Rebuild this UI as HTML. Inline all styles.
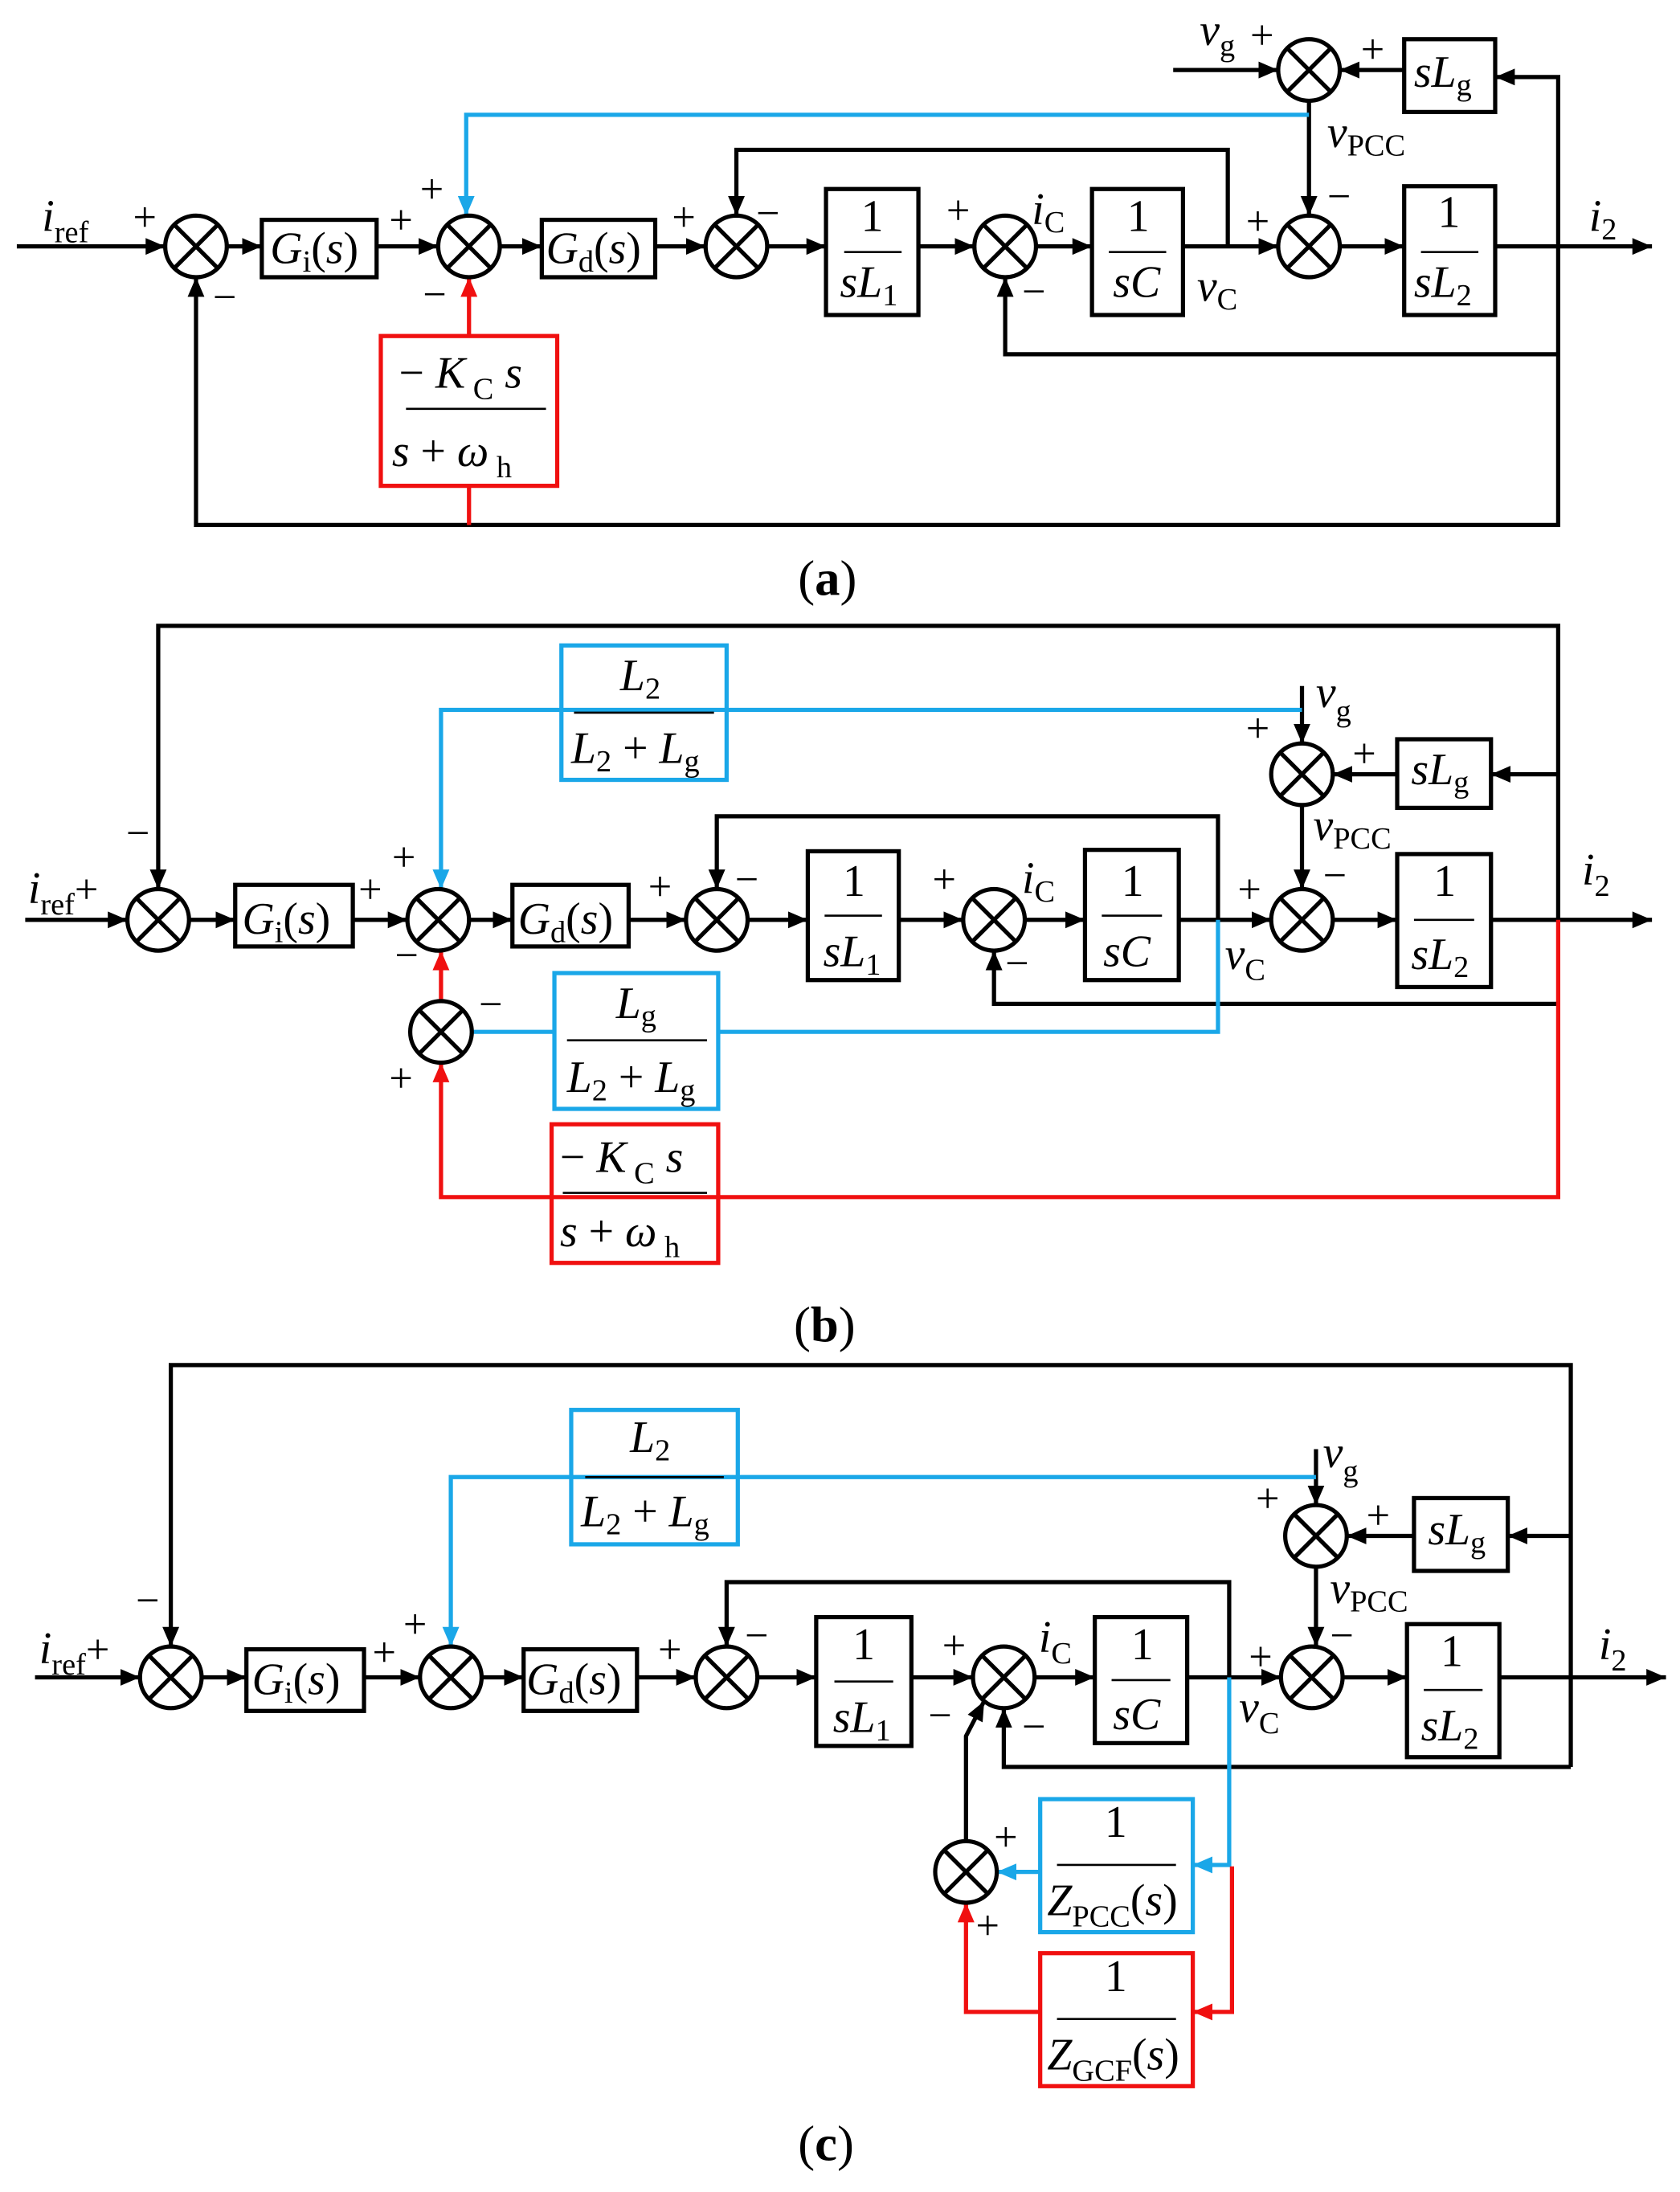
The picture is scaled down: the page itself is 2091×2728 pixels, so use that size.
<!DOCTYPE html>
<html><head><meta charset="utf-8"><style>
html,body{margin:0;padding:0;background:#fff}
svg{display:block}
text{font-family:"Liberation Serif",serif;font-size:32px;fill:#000}
.i{font-style:italic}
.s{font-size:22px;font-style:normal}
.p{font-size:30px}
.lb{font-size:36px}
</style></head><body>
<svg width="2091" height="2728" viewBox="0 0 1200 1565.6" xmlns="http://www.w3.org/2000/svg">
<defs>
<marker id="ab" viewBox="0 0 14 14" refX="14" refY="7" markerWidth="14" markerHeight="14" orient="auto" markerUnits="userSpaceOnUse"><path d="M0,1L14,7L0,13z" fill="#1aa7e8"/></marker>
<marker id="ar" viewBox="0 0 14 14" refX="14" refY="7" markerWidth="14" markerHeight="14" orient="auto" markerUnits="userSpaceOnUse"><path d="M0,1L14,7L0,13z" fill="#f01010"/></marker>
<marker id="a" viewBox="0 0 14 14" refX="14" refY="7" markerWidth="14" markerHeight="14" orient="auto" markerUnits="userSpaceOnUse"><path d="M0,1L14,7L0,13z" fill="#000"/></marker>
<g id="sj"><circle cx="0" cy="0" r="22" fill="#fff" stroke="#000" stroke-width="3"/><path d="M-15.5,-15.5L15.5,15.5M15.5,-15.5L-15.5,15.5" stroke="#000" stroke-width="3"/></g>
</defs>

<g fill="none" stroke="#000" stroke-width="3">
<!-- ===== (a) ===== -->
<path d="M12,176H118" marker-end="url(#a)"/>
<path d="M162,176H187" marker-end="url(#a)"/>
<path d="M269,176H313" marker-end="url(#a)"/>
<path d="M357,176H387" marker-end="url(#a)"/>
<path d="M468,176H504" marker-end="url(#a)"/>
<path d="M548,176H590" marker-end="url(#a)"/>
<path d="M656,176H696" marker-end="url(#a)"/>
<path d="M740,176H780" marker-end="url(#a)"/>
<path d="M845,176H913" marker-end="url(#a)"/>
<path d="M957,176H1003" marker-end="url(#a)"/>
<path d="M1068,176H1180" marker-end="url(#a)"/>
<path d="M877,176V107H526V154" marker-end="url(#a)"/>
<path d="M1113,176V55H1068" marker-end="url(#a)"/>
<path d="M1113,176V253H718V198" marker-end="url(#a)"/>
<path d="M1113,253V375H140V198" marker-end="url(#a)"/>
<path d="M1003,50H957" marker-end="url(#a)"/>
<path d="M838,50H913" marker-end="url(#a)"/>
<path d="M935,72V154" marker-end="url(#a)"/>
<rect x="187" y="157" width="82" height="41"/>
<rect x="387" y="157" width="81" height="41"/>
<rect x="590" y="135" width="66" height="90"/>
<rect x="780" y="135" width="65" height="90"/>
<rect x="1003" y="133" width="65" height="92"/>
<rect x="1003" y="28" width="65" height="52"/>
<path d="M603,180H644M792,180H833M1015,180H1056" stroke-width="1.5"/>

<!-- ===== (b) ===== -->
<path d="M18,657H91" marker-end="url(#a)"/>
<path d="M135,657H168" marker-end="url(#a)"/>
<path d="M252,657H291" marker-end="url(#a)"/>
<path d="M335,657H366" marker-end="url(#a)"/>
<path d="M449,657H490" marker-end="url(#a)"/>
<path d="M534,657H577" marker-end="url(#a)"/>
<path d="M642,657H688" marker-end="url(#a)"/>
<path d="M732,657H775" marker-end="url(#a)"/>
<path d="M842,657H908" marker-end="url(#a)"/>
<path d="M952,657H998" marker-end="url(#a)"/>
<path d="M1065,657H1180" marker-end="url(#a)"/>
<path d="M1113,657V447H113V635" marker-end="url(#a)"/>
<path d="M870,657V583H512V635" marker-end="url(#a)"/>
<path d="M1113,717H710V679" marker-end="url(#a)"/>
<path d="M1113,553H1065" marker-end="url(#a)"/>
<path d="M998,553H952" marker-end="url(#a)"/>
<path d="M930,490V531" marker-end="url(#a)"/>
<path d="M930,575V635" marker-end="url(#a)"/>
<rect x="168" y="632" width="84" height="44"/>
<rect x="366" y="632" width="83" height="44"/>
<rect x="577" y="608" width="65" height="92"/>
<rect x="775" y="607" width="67" height="93"/>
<rect x="998" y="610" width="67" height="95"/>
<rect x="998" y="528" width="67" height="49"/>
<path d="M589,654H630M787,654H830M1010,657H1053" stroke-width="1.5"/>

<!-- ===== (c) ===== -->
<path d="M25,1198H100" marker-end="url(#a)"/>
<path d="M144,1198H176" marker-end="url(#a)"/>
<path d="M260,1198H300" marker-end="url(#a)"/>
<path d="M344,1198H374" marker-end="url(#a)"/>
<path d="M455,1198H497" marker-end="url(#a)"/>
<path d="M541,1198H583" marker-end="url(#a)"/>
<path d="M651,1198H695" marker-end="url(#a)"/>
<path d="M739,1198H782" marker-end="url(#a)"/>
<path d="M848,1198H915" marker-end="url(#a)"/>
<path d="M959,1198H1005" marker-end="url(#a)"/>
<path d="M1071,1198H1190" marker-end="url(#a)"/>
<path d="M1122,1262V975H122V1176" marker-end="url(#a)"/>
<path d="M878,1198V1130H519V1176" marker-end="url(#a)"/>
<path d="M1122,1262H717V1220" marker-end="url(#a)"/>
<path d="M1122,1097H1077" marker-end="url(#a)"/>
<path d="M1010,1097H962" marker-end="url(#a)"/>
<path d="M940,1035V1075" marker-end="url(#a)"/>
<path d="M940,1119V1176" marker-end="url(#a)"/>
<path d="M690,1315V1240L703,1215" marker-end="url(#a)"/>
<rect x="176" y="1178" width="84" height="44"/>
<rect x="374" y="1178" width="81" height="44"/>
<rect x="583" y="1155" width="68" height="92"/>
<rect x="782" y="1155" width="66" height="90"/>
<rect x="1005" y="1160" width="66" height="95"/>
<rect x="1010" y="1070" width="67" height="52"/>
<path d="M596,1201H638M794,1200H836M1017,1207H1059" stroke-width="1.5"/>
</g>

<!-- blue -->
<g fill="none" stroke="#1aa7e8" stroke-width="3">
<path d="M935,82H333V154" marker-end="url(#ab)"/>
<path d="M930,507H315V635" marker-end="url(#ab)"/>
<path d="M337,737H396M513,737H870V657"/>
<rect x="401" y="461" width="118" height="96"/>
<rect x="396" y="695" width="117" height="97"/>
<path d="M940,1055H322V1176" marker-end="url(#ab)"/>
<path d="M878,1198V1332H852" marker-end="url(#ab)"/>
<path d="M743,1337H712" marker-end="url(#ab)"/>
<rect x="743" y="1285" width="109" height="95"/>
<rect x="408" y="1007" width="119" height="96"/>
</g>
<g fill="none" stroke="#000" stroke-width="1.5">
<path d="M410,509H510M405,743H505M418,1055H517M755,1332H840M755,1442H840"/>
</g>
<!-- red -->
<g fill="none" stroke="#f01010" stroke-width="3">
<rect x="272" y="240" width="126" height="107"/>
<path d="M335,375V347"/>
<path d="M335,240V198" marker-end="url(#ar)"/>
<path d="M1113,657V855H315V759" marker-end="url(#ar)"/>
<path d="M315,715V679" marker-end="url(#ar)"/>
<rect x="394" y="803" width="119" height="99"/>
<path d="M880,1333V1437H852" marker-end="url(#ar)"/>
<path d="M743,1437H690V1359" marker-end="url(#ar)"/>
<rect x="743" y="1395" width="109" height="95"/>
</g>
<path d="M290,292H390M402,852H505" stroke="#000" stroke-width="1.5"/>

<!-- summing junctions -->
<use href="#sj" x="140" y="176"/><use href="#sj" x="335" y="176"/><use href="#sj" x="526" y="176"/><use href="#sj" x="718" y="176"/><use href="#sj" x="935" y="176"/><use href="#sj" x="935" y="50"/>
<use href="#sj" x="113" y="657"/><use href="#sj" x="313" y="657"/><use href="#sj" x="512" y="657"/><use href="#sj" x="710" y="657"/><use href="#sj" x="930" y="657"/><use href="#sj" x="930" y="553"/><use href="#sj" x="315" y="737"/>
<use href="#sj" x="122" y="1198"/><use href="#sj" x="322" y="1198"/><use href="#sj" x="519" y="1198"/><use href="#sj" x="717" y="1198"/><use href="#sj" x="937" y="1198"/><use href="#sj" x="940" y="1097"/><use href="#sj" x="690" y="1337"/>

<!-- ===== text (a) ===== -->
<text x="30" y="165" class="i">i<tspan class="s" dy="8">ref</tspan></text>
<text x="95" y="165" class="p">+</text><text x="152" y="222" class="p">−</text>
<text x="193" y="188" class="i">G<tspan class="s" dy="6">i</tspan><tspan dy="-6" font-style="normal">(</tspan>s<tspan font-style="normal">)</tspan></text>
<text x="278" y="167" class="p">+</text><text x="300" y="145" class="p">+</text><text x="302" y="220" class="p">−</text>
<text x="390" y="188" class="i">G<tspan class="s" dy="6">d</tspan><tspan dy="-6" font-style="normal">(</tspan>s<tspan font-style="normal">)</tspan></text>
<text x="480" y="165" class="p">+</text><text x="540" y="162" class="p">−</text>
<text x="615" y="165">1</text><text x="600" y="212" class="i">sL<tspan class="s" dy="6">1</tspan></text>
<text x="676" y="160" class="p">+</text><text x="737" y="160" class="i">i<tspan class="s" dy="6">C</tspan></text><text x="730" y="218" class="p">−</text>
<text x="805" y="165">1</text><text x="795" y="212" class="i">sC</text>
<text x="855" y="215" class="i">v<tspan class="s" dy="6">C</tspan></text>
<text x="890" y="168" class="p">+</text><text x="948" y="150" class="p">−</text>
<text x="1027" y="162">1</text><text x="1010" y="212" class="i">sL<tspan class="s" dy="6">2</tspan></text>
<text x="1135" y="165" class="i">i<tspan class="s" dy="6">2</tspan></text>
<text x="1010" y="62" class="i">sL<tspan class="s" dy="6">g</tspan></text>
<text x="972" y="45" class="p">+</text><text x="893" y="35" class="p">+</text>
<text x="857" y="32" class="i">v<tspan class="s" dy="8">g</tspan></text>
<text x="948" y="105" class="i">v<tspan class="s" dy="6">PCC</tspan></text>
<text x="285" y="277" class="i"><tspan font-style="normal">− </tspan>K<tspan class="s" dy="8"> C</tspan><tspan dy="-8"> s</tspan></text>
<text x="280" y="333" class="i">s <tspan font-style="normal">+ </tspan>ω<tspan class="s" dy="8"> h</tspan></text>
<text x="570" y="425" class="lb">(<tspan font-weight="bold">a</tspan>)</text>

<!-- ===== text (b) ===== -->
<text x="20" y="645" class="i">i<tspan class="s" dy="8">ref</tspan><tspan class="p" font-style="normal" dy="-8">+</tspan></text>
<text x="90" y="605" class="p">−</text>
<text x="173" y="667" class="i">G<tspan class="s" dy="6">i</tspan><tspan dy="-6" font-style="normal">(</tspan>s<tspan font-style="normal">)</tspan></text>
<text x="256" y="645" class="p">+</text><text x="280" y="622" class="p">+</text><text x="282" y="692" class="p">−</text>
<text x="370" y="667" class="i">G<tspan class="s" dy="6">d</tspan><tspan dy="-6" font-style="normal">(</tspan>s<tspan font-style="normal">)</tspan></text>
<text x="463" y="643" class="p">+</text><text x="525" y="638" class="p">−</text>
<text x="602" y="640">1</text><text x="588" y="690" class="i">sL<tspan class="s" dy="6">1</tspan></text>
<text x="666" y="638" class="p">+</text><text x="730" y="638" class="i">i<tspan class="s" dy="6">C</tspan></text><text x="718" y="698" class="p">−</text>
<text x="801" y="640">1</text><text x="788" y="690" class="i">sC</text>
<text x="875" y="692" class="i">v<tspan class="s" dy="8">C</tspan></text>
<text x="884" y="645" class="p">+</text><text x="945" y="635" class="p">−</text>
<text x="1024" y="640">1</text><text x="1008" y="692" class="i">sL<tspan class="s" dy="6">2</tspan></text>
<text x="1130" y="632" class="i">i<tspan class="s" dy="8">2</tspan></text>
<text x="1008" y="560" class="i">sL<tspan class="s" dy="6">g</tspan></text>
<text x="966" y="548" class="p">+</text><text x="890" y="530" class="p">+</text>
<text x="940" y="505" class="i">v<tspan class="s" dy="10">g</tspan></text>
<text x="938" y="600" class="i">v<tspan class="s" dy="6">PCC</tspan></text>
<text x="443" y="493" class="i">L<tspan class="s" dy="6">2</tspan></text>
<text x="408" y="545" class="i">L<tspan class="s" dy="6">2</tspan><tspan font-style="normal" dy="-6"> + </tspan>L<tspan class="s" dy="6">g</tspan></text>
<text x="440" y="727" class="i">L<tspan class="s" dy="6">g</tspan></text>
<text x="405" y="780" class="i">L<tspan class="s" dy="6">2</tspan><tspan font-style="normal" dy="-6"> + </tspan>L<tspan class="s" dy="6">g</tspan></text>
<text x="342" y="727" class="p">−</text><text x="278" y="780" class="p">+</text>
<text x="400" y="837" class="i"><tspan font-style="normal">− </tspan>K<tspan class="s" dy="8"> C</tspan><tspan dy="-8"> s</tspan></text>
<text x="400" y="890" class="i">s <tspan font-style="normal">+ </tspan>ω<tspan class="s" dy="8"> h</tspan></text>
<text x="567" y="958" class="lb">(<tspan font-weight="bold">b</tspan>)</text>

<!-- ===== text (c) ===== -->
<text x="28" y="1188" class="i">i<tspan class="s" dy="8">ref</tspan><tspan class="p" font-style="normal" dy="-8">+</tspan></text>
<text x="97" y="1153" class="p">−</text>
<text x="180" y="1210" class="i">G<tspan class="s" dy="6">i</tspan><tspan dy="-6" font-style="normal">(</tspan>s<tspan font-style="normal">)</tspan></text>
<text x="266" y="1190" class="p">+</text><text x="288" y="1170" class="p">+</text>
<text x="376" y="1210" class="i">G<tspan class="s" dy="6">d</tspan><tspan dy="-6" font-style="normal">(</tspan>s<tspan font-style="normal">)</tspan></text>
<text x="470" y="1188" class="p">+</text><text x="532" y="1178" class="p">−</text>
<text x="609" y="1185">1</text><text x="595" y="1237" class="i">sL<tspan class="s" dy="6">1</tspan></text>
<text x="673" y="1185" class="p">+</text><text x="742" y="1180" class="i">i<tspan class="s" dy="8">C</tspan></text>
<text x="663" y="1235" class="p">−</text><text x="730" y="1243" class="p">−</text>
<text x="808" y="1185">1</text><text x="795" y="1235" class="i">sC</text>
<text x="885" y="1230" class="i">v<tspan class="s" dy="8">C</tspan></text>
<text x="892" y="1193" class="p">+</text><text x="950" y="1178" class="p">−</text>
<text x="1029" y="1190">1</text><text x="1015" y="1243" class="i">sL<tspan class="s" dy="6">2</tspan></text>
<text x="1142" y="1185" class="i">i<tspan class="s" dy="8">2</tspan></text>
<text x="1020" y="1103" class="i">sL<tspan class="s" dy="6">g</tspan></text>
<text x="976" y="1092" class="p">+</text><text x="897" y="1080" class="p">+</text>
<text x="945" y="1048" class="i">v<tspan class="s" dy="10">g</tspan></text>
<text x="950" y="1145" class="i">v<tspan class="s" dy="6">PCC</tspan></text>
<text x="450" y="1037" class="i">L<tspan class="s" dy="6">2</tspan></text>
<text x="415" y="1090" class="i">L<tspan class="s" dy="6">2</tspan><tspan font-style="normal" dy="-6"> + </tspan>L<tspan class="s" dy="6">g</tspan></text>
<text x="789" y="1312">1</text><text x="748" y="1368" class="i">Z<tspan class="s" dy="8">PCC</tspan><tspan dy="-8" font-style="normal">(</tspan>s<tspan font-style="normal">)</tspan></text>
<text x="789" y="1422">1</text><text x="748" y="1478" class="i">Z<tspan class="s" dy="8">GCF</tspan><tspan dy="-8" font-style="normal">(</tspan>s<tspan font-style="normal">)</tspan></text>
<text x="710" y="1322" class="p">+</text><text x="697" y="1385" class="p">+</text>
<text x="570" y="1543" class="lb">(<tspan font-weight="bold">c</tspan>)</text>
</svg>
</body></html>
